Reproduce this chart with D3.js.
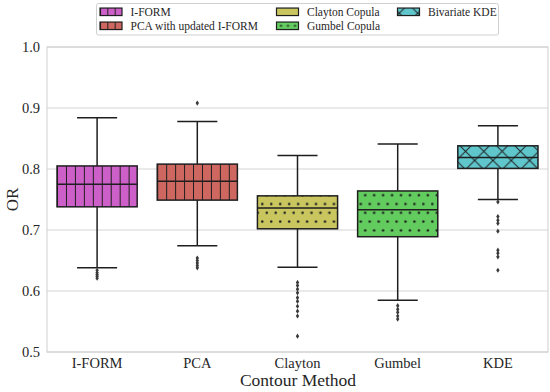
<!DOCTYPE html>
<html><head><meta charset="utf-8">
<script src="https://cdn.jsdelivr.net/npm/d3@7"></script>
<style>body{margin:0;background:#fff}svg{display:block}
text{font-family:"Liberation Serif","DejaVu Serif",serif;}</style>
</head><body><svg id="c" width="550" height="392"></svg>
<script>
// ---- data ----
const categories = ["I-FORM", "PCA", "Clayton", "Gumbel", "KDE"];
const legendLabels = ["I-FORM", "PCA with updated I-FORM", "Clayton Copula", "Gumbel Copula", "Bivariate KDE"];
const whiskerLow  = [0.638, 0.674, 0.639, 0.585, 0.750];
const q1          = [0.738, 0.749, 0.702, 0.689, 0.801];
const median      = [0.775, 0.780, 0.736, 0.733, 0.819];
const q3          = [0.805, 0.808, 0.756, 0.764, 0.838];
const whiskerHigh = [0.884, 0.878, 0.822, 0.841, 0.871];
const outliersIFORM   = [0.634, 0.630, 0.627, 0.624, 0.621];
const outliersPCA     = [0.908, 0.654, 0.650, 0.646, 0.642, 0.638];
const outliersClayton = [0.614, 0.609, 0.603, 0.597, 0.589, 0.583, 0.575, 0.567, 0.559, 0.526];
const outliersGumbel  = [0.576, 0.570, 0.565, 0.559, 0.554];
const outliersKDE     = [0.746, 0.722, 0.716, 0.711, 0.698, 0.667, 0.662, 0.656, 0.634];
const outliers = [outliersIFORM, outliersPCA, outliersClayton, outliersGumbel, outliersKDE];
const yTicks = [0.5, 0.6, 0.7, 0.8, 0.9, 1.0];
const colors = ["#cd5fc8", "#cd675f", "#c9c65f", "#62cc5f", "#5fc6cc"];
const hatches = ["|", "|", ".", ".", "x"];

// ---- layout ----
const svg = d3.select("#c");
const L = 47, R = 548, T = 47, B = 352;
const TXT = "#262626";
const EDGE = "#1e1e1e";

const x = d3.scaleBand().domain(categories).range([L, R]).paddingInner(0.2).paddingOuter(0.1);
const y = d3.scaleLinear().domain([0.5, 1.0]).range([B, T]);

const defs = svg.append("defs");
function makePattern(id, type, x0, y0) {
  let p;
  if (type === "|") {
    const w = 8.95;
    p = defs.append("pattern").attr("id", id).attr("patternUnits", "userSpaceOnUse")
      .attr("x", x0).attr("y", 0).attr("width", w).attr("height", 10);
    p.append("line").attr("x1", 0.5).attr("x2", 0.5).attr("y1", 0).attr("y2", 10)
      .attr("stroke", EDGE).attr("stroke-width", 1);
    p.append("line").attr("x1", w + 0.5).attr("x2", w + 0.5).attr("y1", 0).attr("y2", 10)
      .attr("stroke", EDGE).attr("stroke-width", 1);
  } else if (type === ".") {
    const w = 8.95, h = 17.6;
    p = defs.append("pattern").attr("id", id).attr("patternUnits", "userSpaceOnUse")
      .attr("x", x0 - w / 4).attr("y", y0 - h / 4).attr("width", w).attr("height", h);
    p.append("circle").attr("cx", w / 4).attr("cy", h / 4).attr("r", 1.25).attr("fill", EDGE);
    p.append("circle").attr("cx", 3 * w / 4).attr("cy", 3 * h / 4).attr("r", 1.25).attr("fill", EDGE);
  } else if (type === "x") {
    const s = 18.3;
    p = defs.append("pattern").attr("id", id).attr("patternUnits", "userSpaceOnUse")
      .attr("x", x0 - s / 2).attr("y", y0 - s / 2).attr("width", s).attr("height", s);
    p.append("path").attr("d", `M-1,-1L${s + 1},${s + 1}M-1,${s + 1}L${s + 1},-1`)
      .attr("stroke", EDGE).attr("stroke-width", 1).attr("fill", "none");
  }
  return id;
}

// ---- grid + frame ----
svg.append("g").selectAll("line").data(yTicks).join("line")
  .attr("x1", L).attr("x2", R).attr("y1", d => y(d)).attr("y2", d => y(d))
  .attr("stroke", "#d4d4d4").attr("stroke-width", 1);
svg.append("rect").attr("x", L).attr("y", T).attr("width", R - L).attr("height", B - T)
  .attr("fill", "none").attr("stroke", "#cfcfcf").attr("stroke-width", 1);

// ---- y axis labels ----
svg.append("g").selectAll("text").data(yTicks).join("text")
  .attr("x", 40).attr("y", d => y(d)).attr("dy", "0.35em").attr("text-anchor", "end")
  .attr("font-size", 14.5).attr("fill", TXT)
  .text(d => d3.format(".1f")(d));
svg.append("text").attr("transform", `translate(18,${(T + B) / 2}) rotate(-90)`)
  .attr("text-anchor", "middle").attr("font-size", 17).attr("fill", TXT)
  .text("OR");

// ---- x axis labels ----
svg.append("g").selectAll("text").data(categories).join("text")
  .attr("x", d => x(d) + x.bandwidth() / 2).attr("y", 368).attr("text-anchor", "middle")
  .attr("font-size", 14.5).attr("fill", TXT).text(d => d);
svg.append("text").attr("x", (L + R) / 2 + 0.5).attr("y", 386).attr("text-anchor", "middle")
  .attr("font-size", 17.5).attr("fill", TXT).text("Contour Method");

// ---- boxes ----
const bw = x.bandwidth();
const dotAnchorX = 262.3, dotAnchorY = 204;
categories.forEach((c, i) => {
  const g = svg.append("g");
  const cx = x(c) + bw / 2;
  const x0 = x(c);
  g.append("line").attr("x1", cx).attr("x2", cx).attr("y1", y(whiskerLow[i])).attr("y2", y(q1[i]))
    .attr("stroke", EDGE).attr("stroke-width", 1.5);
  g.append("line").attr("x1", cx).attr("x2", cx).attr("y1", y(q3[i])).attr("y2", y(whiskerHigh[i]))
    .attr("stroke", EDGE).attr("stroke-width", 1.5);
  [whiskerLow[i], whiskerHigh[i]].forEach(v => {
    g.append("line").attr("x1", cx - bw / 4).attr("x2", cx + bw / 4).attr("y1", y(v)).attr("y2", y(v))
      .attr("stroke", EDGE).attr("stroke-width", 1.5);
  });
  const by = y(q3[i]), bh = y(q1[i]) - y(q3[i]);
  g.append("rect").attr("x", x0).attr("y", by).attr("width", bw).attr("height", bh).attr("fill", colors[i]);
  let pid;
  if (hatches[i] === "|") pid = makePattern("h" + i, "|", x0, by);
  else if (hatches[i] === ".") pid = makePattern("h" + i, ".", dotAnchorX, dotAnchorY);
  else pid = makePattern("h" + i, "x", x0 + 7.7, by + 5.5);
  g.append("rect").attr("x", x0).attr("y", by).attr("width", bw).attr("height", bh)
    .attr("fill", `url(#${pid})`);
  g.append("rect").attr("x", x0).attr("y", by).attr("width", bw).attr("height", bh)
    .attr("fill", "none").attr("stroke", EDGE).attr("stroke-width", 1.5);
  g.append("line").attr("x1", x0).attr("x2", x0 + bw).attr("y1", y(median[i])).attr("y2", y(median[i]))
    .attr("stroke", EDGE).attr("stroke-width", 1.5);
  g.selectAll("path.o").data(outliers[i]).join("path")
    .attr("d", d => `M${cx},${y(d) - 2.6}L${cx + 1.7},${y(d)}L${cx},${y(d) + 2.6}L${cx - 1.7},${y(d)}Z`)
    .attr("fill", "#3a3a3a");
});

// ---- legend ----
const lg = svg.append("g");
lg.append("rect").attr("x", 96.5).attr("y", 3.5).attr("width", 402).attr("height", 31.5)
  .attr("rx", 2).attr("fill", "#fff").attr("stroke", "#d0d0d0").attr("stroke-width", 1);
const colX = [100, 276.5, 397.5];
const rowY = [11.8, 25.8];
const legendPos = [[0, 0], [0, 1], [1, 0], [1, 1], [2, 0]];
legendLabels.forEach((lab, i) => {
  const px = colX[legendPos[i][0]], py = rowY[legendPos[i][1]];
  const pw = 22, ph = 7.5;
  lg.append("rect").attr("x", px).attr("y", py - ph / 2).attr("width", pw).attr("height", ph)
    .attr("fill", colors[i]);
  if (i !== 2) {
    let pid;
    if (hatches[i] === "|") {
      pid = "lg" + i;
      const p = defs.append("pattern").attr("id", pid).attr("patternUnits", "userSpaceOnUse")
        .attr("x", px).attr("y", 0).attr("width", pw / 3).attr("height", 10);
      p.append("line").attr("x1", 0.5).attr("x2", 0.5).attr("y1", 0).attr("y2", 10)
        .attr("stroke", EDGE).attr("stroke-width", 1);
    } else if (hatches[i] === ".") {
      pid = "lg" + i;
      const p = defs.append("pattern").attr("id", pid).attr("patternUnits", "userSpaceOnUse")
        .attr("x", px + 1).attr("y", py - 1.5).attr("width", 7).attr("height", 10);
      p.append("circle").attr("cx", 3.5).attr("cy", 1.5).attr("r", 1.1).attr("fill", EDGE);
    } else {
      pid = makePattern("lg" + i, "x", px + pw / 2, py - ph / 2 - 4);
    }
    lg.append("rect").attr("x", px).attr("y", py - ph / 2).attr("width", pw).attr("height", ph)
      .attr("fill", `url(#${pid})`);
  }
  lg.append("rect").attr("x", px).attr("y", py - ph / 2).attr("width", pw).attr("height", ph)
    .attr("fill", "none").attr("stroke", EDGE).attr("stroke-width", 1.2);
  lg.append("text").attr("x", px + 30.5).attr("y", py).attr("dy", "0.33em")
    .attr("font-size", 11.5).attr("fill", TXT).text(lab);
});
</script>
</body></html>
